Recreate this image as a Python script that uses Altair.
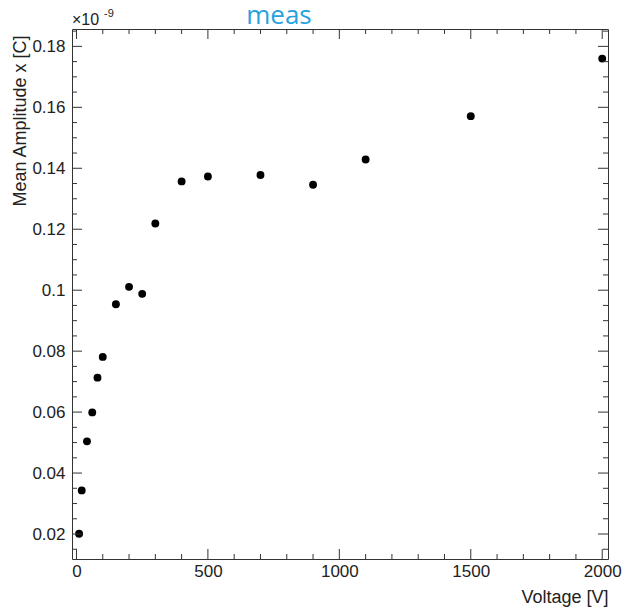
import altair as alt
import pandas as pd

# ---- data ----
voltage = [10, 20, 40, 60, 80, 100, 150, 200, 250, 300, 400, 500, 700, 900, 1100, 1500, 2000]
amplitude = [0.0201, 0.0343, 0.0504, 0.0599, 0.0713, 0.0781, 0.0954, 0.1011, 0.0988, 0.1219,
             0.1357, 0.1373, 0.1378, 0.1346, 0.1429, 0.1571, 0.1760]

x_major = [0, 500, 1000, 1500, 2000]
x_minor = [100, 200, 300, 400, 600, 700, 800, 900, 1100, 1200, 1300, 1400, 1600, 1700, 1800, 1900]
y_major = [0.02, 0.04, 0.06, 0.08, 0.10, 0.12, 0.14, 0.16, 0.18]
y_minor = [0.015, 0.025, 0.03, 0.035, 0.045, 0.05, 0.055, 0.065, 0.07, 0.075, 0.085, 0.09,
           0.095, 0.105, 0.11, 0.115, 0.125, 0.13, 0.135, 0.145, 0.15, 0.155, 0.165, 0.17,
           0.175, 0.185]

title_text = "meas"
x_title = "Voltage [V]"
y_title = "Mean Amplitude x [C]"
exp_base = "\u00d710"
exp_power = "-9"

# ---- layout ----
W, H = 536, 530
FRAME = "#333333"
TXT = "#222222"
FONT = "Liberation Sans"
MAJ, MIN = 10, 5

xs = alt.Scale(domain=[-17, 2022], nice=False, zero=False)
ys = alt.Scale(domain=[0.0118, 0.1857], nice=False, zero=False)

df = pd.DataFrame({"voltage": voltage, "amplitude": amplitude})

points = alt.Chart(df).mark_circle(size=62, color="black", opacity=1).encode(
    x=alt.X("voltage:Q", scale=xs, axis=alt.Axis(values=x_major, format="d", title=x_title)),
    y=alt.Y("amplitude:Q", scale=ys, axis=alt.Axis(values=y_major, format=".2~f", title=y_title)),
)


def xticks(vals, length, top):
    d = pd.DataFrame({"v": vals})
    return alt.Chart(d).mark_rule(color=FRAME, strokeWidth=1).encode(
        x=alt.X("v:Q", scale=xs),
        y=alt.value(0 if top else H),
        y2=alt.value(length if top else H - length),
    )


def yticks(vals, length, right):
    d = pd.DataFrame({"v": vals})
    return alt.Chart(d).mark_rule(color=FRAME, strokeWidth=1).encode(
        y=alt.Y("v:Q", scale=ys),
        x=alt.value(W if right else 0),
        x2=alt.value(W - length if right else length),
    )


tick_layers = [
    xticks(x_major, MAJ, False), xticks(x_minor, MIN, False),
    xticks(x_major, MAJ, True), xticks(x_minor, MIN, True),
    yticks(y_major, MAJ, False), yticks(y_minor, MIN, False),
    yticks(y_major, MAJ, True), yticks(y_minor, MIN, True),
]

title = alt.Chart(pd.DataFrame({"t": [title_text]})).mark_text(
    font="Open Sans", fontSize=26, color="#27a2dd", align="center", baseline="alphabetic"
).encode(x=alt.value(207), y=alt.value(-5), text="t:N")

exp1 = alt.Chart(pd.DataFrame({"t": [exp_base]})).mark_text(
    font=FONT, fontSize=16, color=TXT, align="left", baseline="alphabetic"
).encode(x=alt.value(0), y=alt.value(-4), text="t:N")

exp2 = alt.Chart(pd.DataFrame({"t": [exp_power]})).mark_text(
    font=FONT, fontSize=11, color=TXT, align="left", baseline="alphabetic"
).encode(x=alt.value(32), y=alt.value(-12), text="t:N")

chart = alt.layer(points, *tick_layers, title, exp1, exp2).properties(
    width=W, height=H,
    autosize=alt.AutoSizeParams(type="none"),
    padding={"left": 64, "top": 21, "right": 14, "bottom": 48},
    background="white",
).configure_view(
    stroke=FRAME, strokeWidth=1
).configure_axis(
    ticks=False, tickSize=0, domain=False, grid=False,
    labelFont=FONT, labelFontSize=17, labelColor=TXT,
    labelFlush=False, labelOverlap=False,
    titleFont=FONT, titleFontWeight="normal", titleColor=TXT,
).configure_axisX(
    labelPadding=4, titleFontSize=18, titleX=W, titleY=43,
    titleAlign="right", titleBaseline="alphabetic",
).configure_axisY(
    labelPadding=7, titleFontSize=18, titleAngle=270, titleX=-47, titleY=6,
    titleAlign="right", titleBaseline="alphabetic",
)

chart.save("out.html", embed_options={"renderer": "svg", "actions": False})
